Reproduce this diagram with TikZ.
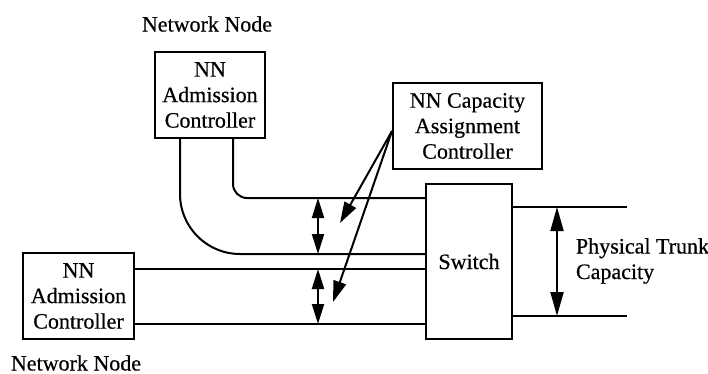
\documentclass[tikz,border=0pt]{standalone}
\usepackage{fontspec}
\setmainfont{Liberation Serif}[FakeBold=0.5]
\usetikzlibrary{arrows.meta,calc}
\begin{document}
\begin{tikzpicture}[x=1pt,y=-1pt,
  line width=2pt,
  txt/.style={font=\fontsize{22}{25.5}\selectfont, inner sep=0pt},
  box/.style={draw, txt, align=center},
  dbl/.style={{Triangle[length=20pt,width=12pt]}-{Triangle[length=20pt,width=12pt]}},
  dblw/.style={{Triangle[length=24pt,width=13pt]}-{Triangle[length=24pt,width=13pt]}},
  ptr/.style={-{Triangle[length=21pt,width=13pt]}}]
\useasboundingbox (0,0) rectangle (708,374);

% controllers and switch
\node[box, minimum width=110pt, minimum height=86pt] (nnA) at (210,95) {NN\\Admission\\Controller};
\node[box, minimum width=111pt, minimum height=86pt] (nnB) at (78.5,296) {NN\\Admission\\Controller};
\node[box, minimum width=149pt, minimum height=86pt] (cap) at (467.5,126) {NN Capacity\\Assignment\\Controller};
\node[box, minimum width=86pt, minimum height=155pt] (sw) at (469,261.5) {Switch};

% labels
\node[txt] (lblA) at (207,24) {Network Node};
\node[txt] (lblB) at (76,363) {Network Node};
\node[txt, align=left, anchor=west] (trunk) at (575,261) {Physical Trunk\\Capacity};

% line levels
\coordinate (yA1) at (0,198);
\coordinate (yA2) at (0,254);
\coordinate (yB1) at (0,269);
\coordinate (yB2) at (0,324);
\coordinate (yT1) at (0,207);
\coordinate (yT2) at (0,316);
\coordinate (xm) at (318,0);
\coordinate (xt) at (557,0);
\coordinate (xe) at (627,0);

% trunks of the upper network node
\draw[rounded corners=60pt] ($(nnA.south)+(-30,0)$) |- (sw.west |- yA2);
\draw[rounded corners=14pt] ($(nnA.south)+(23,0)$) |- (sw.west |- yA1);

% trunks of the lower network node
\draw (nnB.east |- yB1) -- (sw.west |- yB1);
\draw (nnB.east |- yB2) -- (sw.west |- yB2);

% physical trunk
\draw (sw.east |- yT1) -- (xe |- yT1);
\draw (sw.east |- yT2) -- (xe |- yT2);

% capacity arrows
\draw[dbl] (xm |- yA1) -- (xm |- yA2);
\draw[dbl] (xm |- yB1) -- (xm |- yB2);
\draw[dblw] (xt |- yT1) -- (xt |- yT2);

% assignment pointers
\coordinate (tipA) at (340,223);
\coordinate (tipB) at (333,302);
\draw[ptr] ($(cap.west)+(0,5)$) -- (tipA);
\draw[ptr] ($(cap.west)+(0,5)$) -- (tipB);
\end{tikzpicture}
\end{document}
